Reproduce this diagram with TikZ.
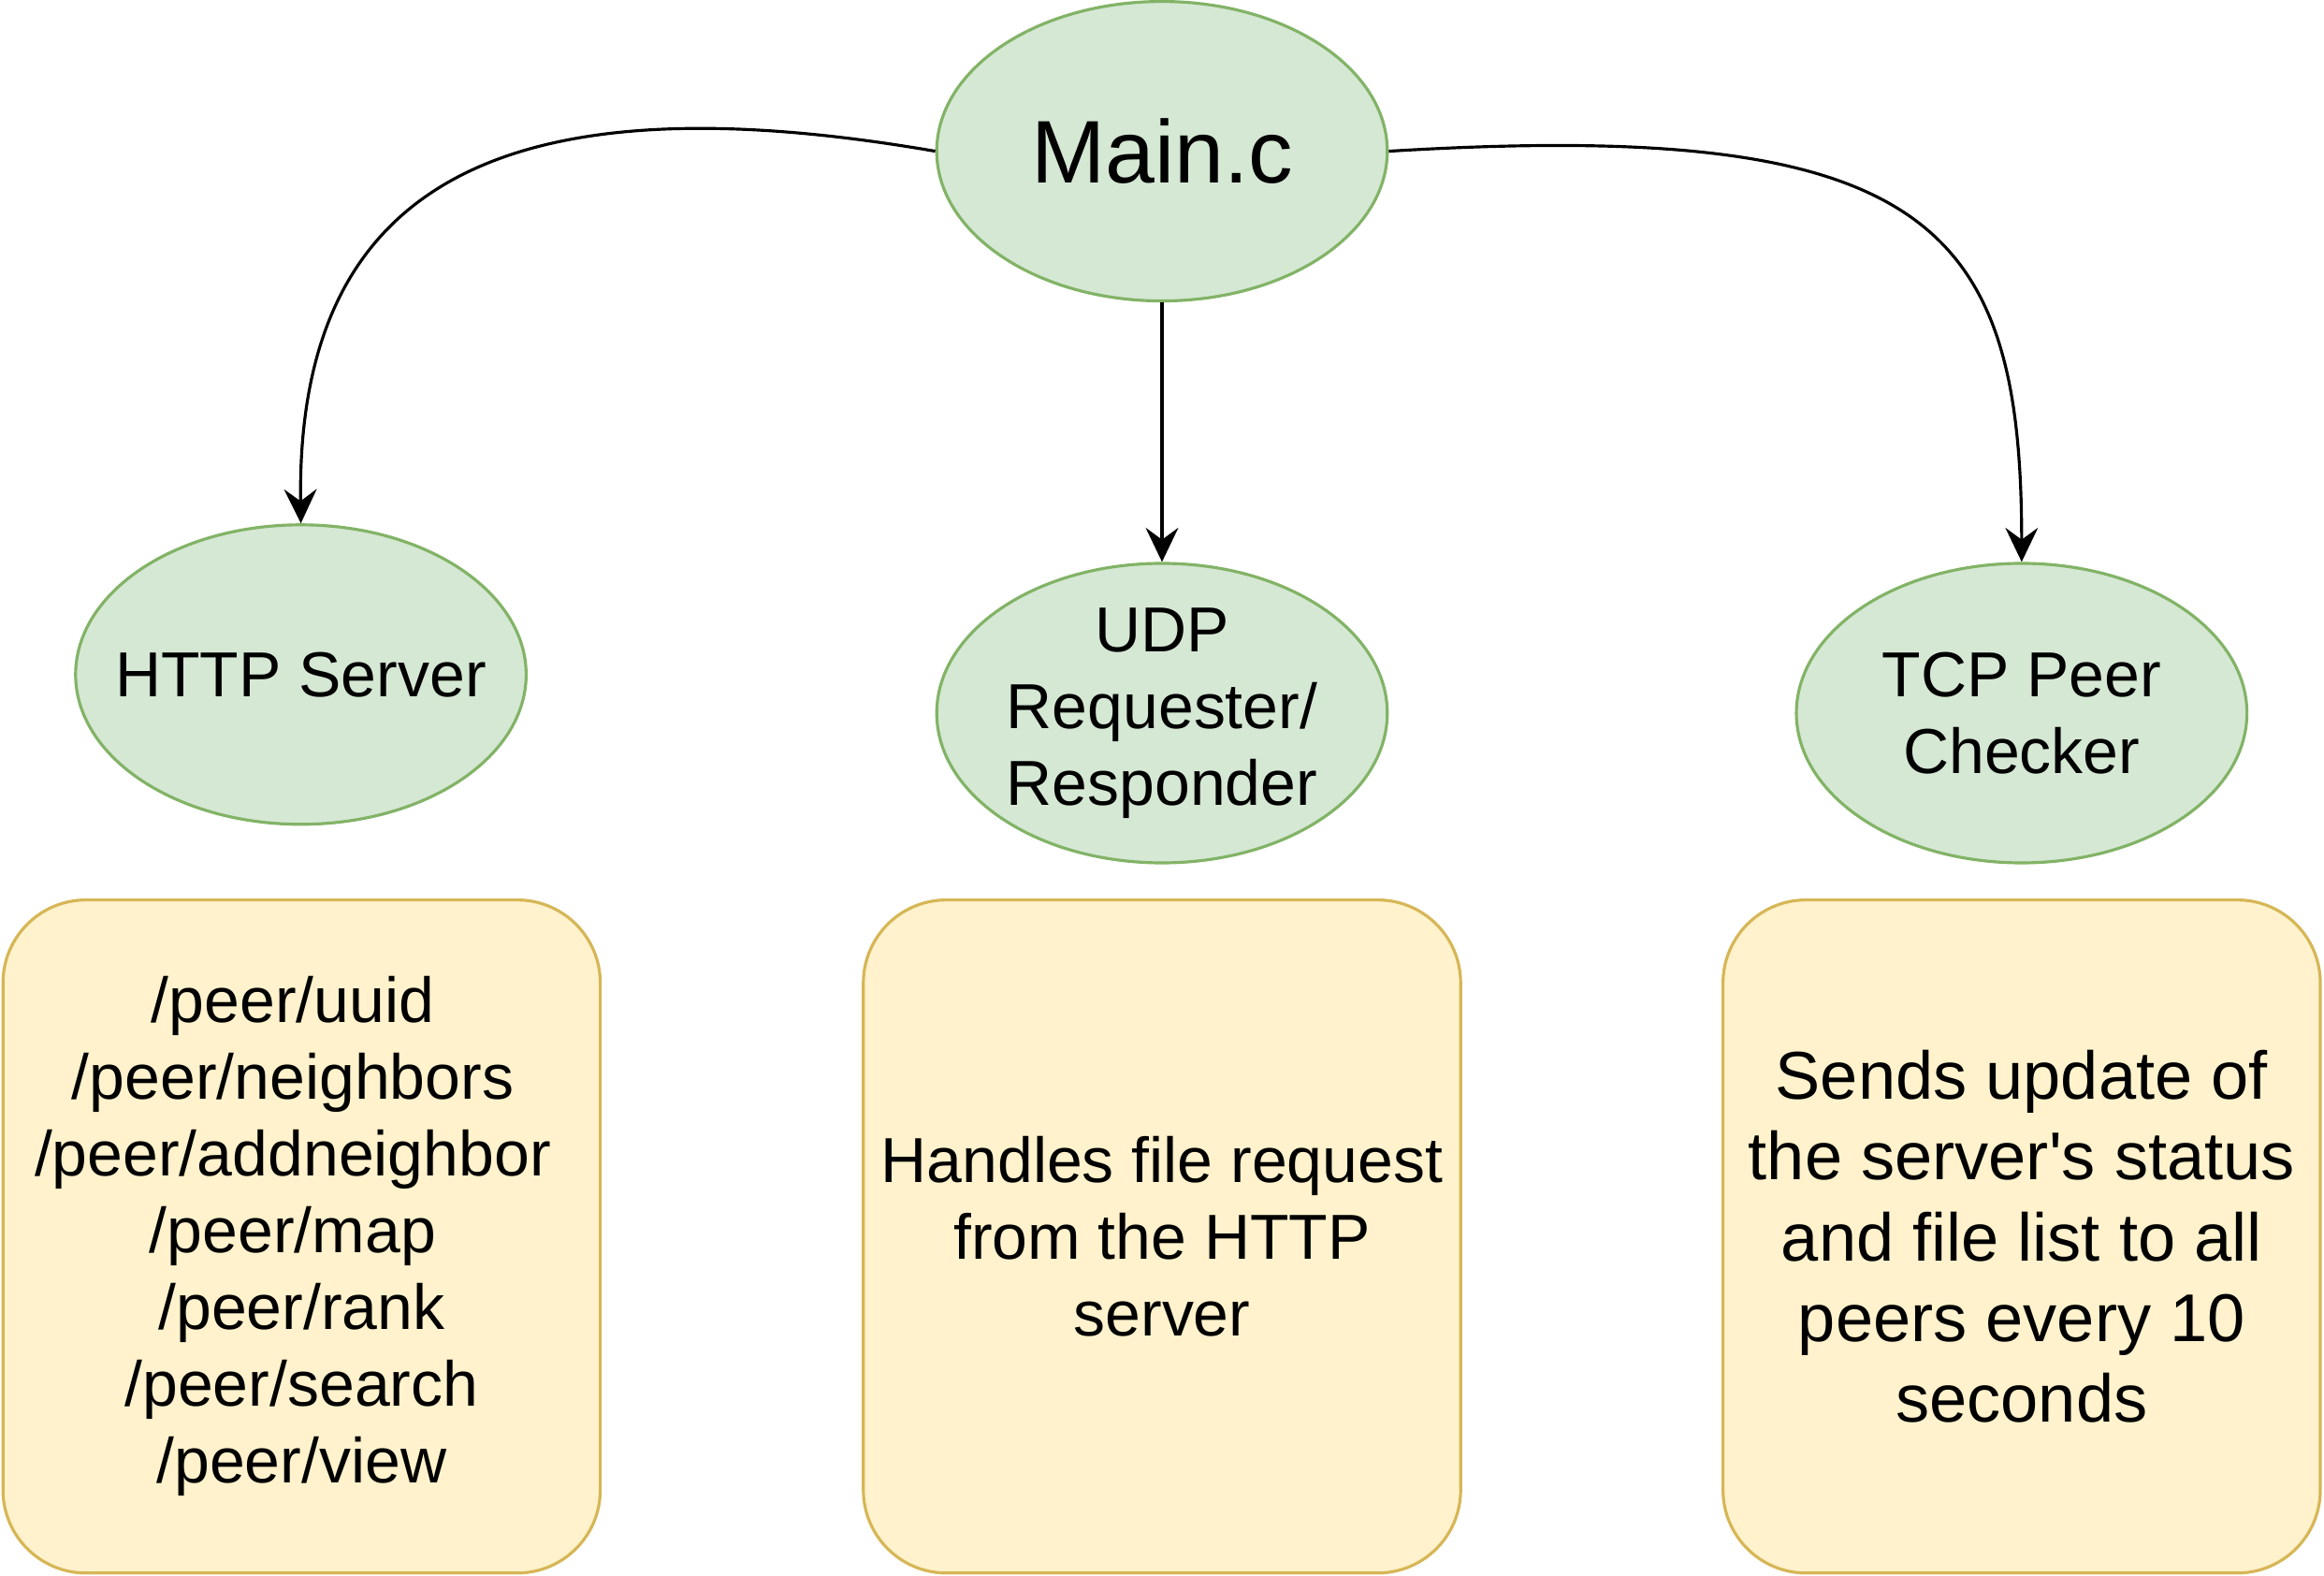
\documentclass[tikz,border=0pt]{standalone}
\usepackage{fontspec}
\setmainfont{Liberation Sans}[Ligatures=TeXOff]
\usetikzlibrary{shapes.geometric,arrows.meta}
\definecolor{gfill}{HTML}{D5E8D4}
\definecolor{gline}{HTML}{82B366}
\definecolor{yfill}{HTML}{FFF2CC}
\definecolor{yline}{HTML}{D6B656}
\newcommand{\tsp}{\rule{5.96pt}{0pt}}
\begin{document}
\begin{tikzpicture}[x=0.5pt,y=-0.5pt,
  ell/.style={ellipse,draw=gline,fill=gfill,line width=1pt,minimum width=152pt,minimum height=101pt,inner xsep=-20pt,inner ysep=-12pt,align=center,font=\fontsize{21.45}{25.8}\selectfont},
  desc/.style={rectangle,rounded corners=28pt,draw=yline,fill=yfill,line width=1pt,minimum width=201.5pt,minimum height=227pt,inner sep=0pt,align=center,font=\fontsize{21.45}{25.9}\selectfont},
  conn/.style={line width=1pt,-{Stealth[length=11.5pt,width=11pt,inset=4pt]}}]
\useasboundingbox (0,0) rectangle (1568,1063);
\node[ell,font=\fontsize{30}{36}\selectfont] (main) at (784,102) {Main.c};
\node[ell] (http) at (203,455) {HTTP Server};
\node[ell] (udp) at (784,481) {UDP\\Requester/\\Responder};
\node[ell] (tcp) at (1364,481) {TCP Peer\\Checker};
\node[desc] (httpbox) at (203.5,834) {/peer/uuid\tsp\\/peer/neighbors\tsp\\/peer/addneighbor\tsp\\/peer/map\tsp\\/peer/rank\\/peer/search\\/peer/view};
\node[desc] (udpbox) at (784,834) {Handles file request\\from the HTTP\\server};
\node[desc,font=\fontsize{22.8}{27.2}\selectfont] (tcpbox) at (1364,834) {Sends update of\\the server's status\\and file list to all\\peers every 10\\seconds};
\draw[conn] (main.west) .. controls (330,50) and (200,130) .. (http.north);
\draw[conn] (main) -- (udp);
\draw[conn] (main.east) .. controls (1300,80) and (1364,150) .. (tcp.north);
\end{tikzpicture}
\end{document}
